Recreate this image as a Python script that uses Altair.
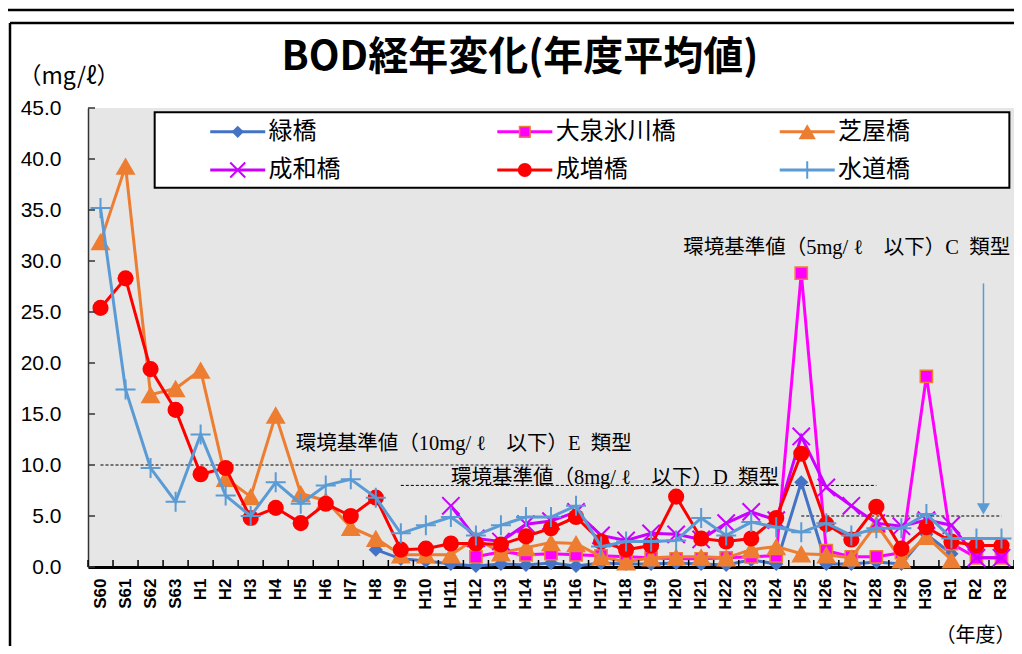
import altair as alt
import pandas as pd

categories = ["S60", "S61", "S62", "S63", "H1", "H2", "H3", "H4", "H5", "H6",
              "H7", "H8", "H9", "H10", "H11", "H12", "H13", "H14", "H15", "H16",
              "H17", "H18", "H19", "H20", "H21", "H22", "H23", "H24", "H25", "H26",
              "H27", "H28", "H29", "H30", "R1", "R2", "R3"]

N = None
midori = [N, N, N, N, N, N, N, N, N, N, N,
          1.7, 0.8, 0.6, 0.3, 0.1, 0.3, 0.2, 0.4, 0.1, 0.4, 0.3, 0.3, 0.4, 0.3,
          0.2, 0.7, 0.3, 8.3, 0.3, 0.3, 0.5, 0.3, 3.2, 1.3, N, N]
oizumi = [N, N, N, N, N, N, N, N, N, N, N, N, N, N, N,
          1.0, 1.5, 1.2, 1.3, 1.2, 1.1, 1.0, 0.9, 0.8, 0.8, 0.9, 1.0, 1.1, 28.8,
          1.6, 1.0, 1.0, 1.4, 18.7, 2.3, 0.9, 0.9]
shibaya = [31.9, 39.3, 16.9, 17.5, 19.3, 8.7, 6.9, 14.9, 7.2, 6.5, 3.9, 2.8,
           1.2, 1.2, 1.2, 2.8, 1.4, 1.9, 2.4, 2.3, 1.0, 0.5, 0.9, 1.0, 1.0, 0.9,
           1.7, 2.0, 1.3, 1.2, 0.9, 4.2, 0.7, 3.0, 0.7, N, N]
seiwa = [N, N, N, N, N, N, N, N, N, N, N, N, N, N,
         6.0, 2.8, 2.5, 4.2, 4.5, 5.4, 3.1, 2.6, 3.3, 3.2, 2.7, 4.3, 5.4, 4.6,
         12.8, 7.8, 6.0, 4.3, 4.0, 4.6, 4.1, 0.9, 0.9]
narimasu = [25.4, 28.3, 19.4, 15.4, 9.1, 9.7, 4.8, 5.8, 4.3, 6.2, 5.0, 6.8,
            1.7, 1.8, 2.3, 2.3, 2.2, 3.0, 3.8, 4.9, 2.5, 1.7, 2.1, 6.9, 2.8, 2.5,
            2.8, 4.8, 11.1, 4.2, 2.7, 5.9, 1.8, 3.9, 2.5, 2.1, 2.1]
suido = [35.2, 17.4, 9.7, 6.4, 13.0, 7.0, 5.0, 8.3, 6.2, 8.0, 8.6, 6.8,
         3.3, 4.1, 4.9, 3.1, 4.1, 4.9, 4.9, 6.0, 2.0, 2.5, 2.5, 2.6, 4.8, 3.1,
         4.4, 3.9, 3.4, 4.3, 3.1, 3.8, 3.8, 5.2, 2.8, 2.8, 2.8]

series_names = ["緑橋", "大泉氷川橋", "芝屋橋", "成和橋", "成増橋", "水道橋"]
series_values = [midori, oizumi, shibaya, seiwa, narimasu, suido]

y_ticks = [0, 5, 10, 15, 20, 25, 30, 35, 40, 45]

std_lines = [("E", "S60", 10), ("E", "H15", 10),
             ("D", "H9", 8), ("D", "H28", 8),
             ("C", "H25", 5), ("C", "R3", 5)]

X_PATH = "M-1,-1L1,1M-1,1L1,-1"
PLUS_PATH = "M-1,0L1,0M0,-1L0,1"

styles = {
    "緑橋": dict(color="#4472C4", shape="diamond", size=200, filled=True, stroke=None),
    "大泉氷川橋": dict(color="#FF00FF", shape="square", size=150, filled=True, stroke="#ED7D31"),
    "芝屋橋": dict(color="#ED7D31", shape="triangle-up", size=400, filled=True, stroke=None),
    "成和橋": dict(color="#CC00FF", shape=X_PATH, size=300, filled=False, stroke=None),
    "成増橋": dict(color="#FF0000", shape="circle", size=260, filled=True, stroke=None),
    "水道橋": dict(color="#5B9BD5", shape=PLUS_PATH, size=400, filled=False, stroke=None),
}

rows = []
for name, vals in zip(series_names, series_values):
    for c, v in zip(categories, vals):
        if v is not None:
            rows.append({"series": name, "year": c, "bod": v})
df = pd.DataFrame(rows)

W, H = 926, 459
JP = "Noto Sans CJK JP"
SERIF = "Liberation Serif, Noto Sans CJK JP"
NB = "\u00a0"

xscale = alt.Scale(type="band", domain=categories, paddingInner=0, paddingOuter=0)
yscale = alt.Scale(domain=[0, 45], nice=False, zero=True)

x_axis = alt.Axis(title="（年度）", labelAngle=-90, labelFontSize=17, labelFontWeight="bold",
                  labelFont="Liberation Sans", labelColor="black", labelPadding=11,
                  ticks=False, domainColor="black", domainWidth=3, grid=False,
                  titleX=927, titleY=68, titleAlign="right", titleBaseline="middle",
                  titleFont=JP, titleFontSize=20, titleFontWeight="normal", titleColor="black",
                  labelOverlap=False)
y_axis = alt.Axis(title="（mg/ℓ）", values=y_ticks, format=".1f", labelFontSize=21,
                  labelFont="Liberation Sans", labelColor="black",
                  labelPadding=27, ticks=False, domainColor="#333333", domainWidth=1.5,
                  grid=False, titleAngle=0, titleX=-70, titleY=-32, titleAlign="left",
                  titleBaseline="middle", titleFontSize=23, titleFontWeight="normal",
                  titleFont=JP, titleColor="black")


def xenc(field="year", bp=0.5):
    return alt.X(f"{field}:N", scale=xscale, axis=x_axis, bandPosition=bp, title="（年度）")


def yenc(field="bod"):
    return alt.Y(f"{field}:Q", scale=yscale, axis=y_axis, title="（mg/ℓ）")


layers = []

# dashed standard lines
std_df = pd.DataFrame(std_lines, columns=["grp", "year", "v"])
layers.append(alt.Chart(std_df).mark_line(color="black", strokeWidth=1, strokeDash=[3, 2]).encode(
    x=xenc(), y=yenc("v"), detail="grp:N"))

# series lines + markers (later series drawn on top)
for name in series_names:
    st = styles[name]
    sub = df[df.series == name]
    base = alt.Chart(sub)
    layers.append(base.mark_line(color=st["color"], strokeWidth=3).encode(x=xenc(), y=yenc()))
    pkw = dict(shape=st["shape"], size=st["size"], opacity=1)
    if st["filled"]:
        pkw.update(filled=True, fill=st["color"])
        if st["stroke"]:
            pkw.update(stroke=st["stroke"], strokeWidth=1.5)
        else:
            pkw.update(strokeWidth=0)
    else:
        pkw.update(filled=False, stroke=st["color"], strokeWidth=2)
    layers.append(base.mark_point(**pkw).encode(x=xenc(), y=yenc()))

# axis ticks (inside)
tick_df = pd.DataFrame({"year": categories})
layers.append(alt.Chart(tick_df).mark_rule(color="black", strokeWidth=1.5).encode(
    x=xenc(bp=0), y=alt.value(H), y2=alt.value(H - 7)))
layers.append(alt.Chart(pd.DataFrame({"year": [categories[-1]]})).mark_rule(
    color="black", strokeWidth=1.5).encode(x=xenc(bp=1), y=alt.value(H), y2=alt.value(H - 7)))
ytick_df = pd.DataFrame({"v": y_ticks})
layers.append(alt.Chart(ytick_df).mark_rule(color="#333333", strokeWidth=1.5).encode(
    y=yenc("v"), x=alt.value(0), x2=alt.value(7)))

# annotations
ann = [
    ("環境基準値（10mg/" + NB + "ℓ" + NB * 4 + "以下）E" + NB * 2 + "類型", "H5", 12.1, -5),
    ("環境基準値（8mg/" + NB + "ℓ" + NB * 4 + "以下）D" + NB * 2 + "類型", "H11", 8.7, 0),
    ("環境基準値（5mg/" + NB + "ℓ" + NB * 4 + "以下）C" + NB * 2 + "類型", "H20", 31.3, 7),
]
for txt, yr, v, dx in ann:
    layers.append(alt.Chart(pd.DataFrame({"t": [txt], "year": [yr], "v": [v]})).mark_text(
        align="left", baseline="middle", font=SERIF, fontSize=20.5, color="black", dx=dx).encode(
        x=xenc(), y=yenc("v"), text="t:N"))

# arrow
arrow_df = pd.DataFrame({"year": ["R2"], "v1": [27.8], "v2": [6.2]})
layers.append(alt.Chart(arrow_df).mark_rule(color="#5B9BD5", strokeWidth=1.5).encode(
    x=xenc(bp=0.78), y=yenc("v1"), y2="v2:Q"))
layers.append(alt.Chart(pd.DataFrame({"year": ["R2"], "v": [5.7]})).mark_point(
    shape="triangle-down", filled=True, fill="#5B9BD5", size=170, strokeWidth=0, opacity=1).encode(
    x=xenc(bp=0.78), y=yenc("v")))

# title and frame
layers.append(alt.Chart(pd.DataFrame({"t": ["BOD経年変化(年度平均値)"]})).mark_text(
    font=JP, fontSize=40, fontWeight="bold", color="black", align="center", baseline="middle").encode(
    text="t:N", x=alt.value(432), y=alt.value(-50)))
layers.append(alt.Chart(pd.DataFrame({"a": [0]})).mark_rule(color="black", strokeWidth=2.5).encode(
    x=alt.value(-82), x2=alt.value(940), y=alt.value(-98)))
layers.append(alt.Chart(pd.DataFrame({"a": [0]})).mark_rule(color="black", strokeWidth=2.5).encode(
    x=alt.value(-78), x2=alt.value(940), y=alt.value(-85)))
layers.append(alt.Chart(pd.DataFrame({"a": [0]})).mark_rule(color="black", strokeWidth=2.5).encode(
    x=alt.value(-78), y=alt.value(-85), y2=alt.value(560)))

main = alt.layer(*layers)

# custom legend (independent unit scales)
lx_scale = alt.Scale(domain=[0, 1], nice=False, zero=False)
ly_scale = alt.Scale(domain=[0, 1], nice=False, zero=False, reverse=True)
box_df = pd.DataFrame({"x1": [0.072], "x2": [0.995], "y1": [0.009], "y2": [0.174]})
leg_layers = [alt.Chart(box_df).mark_rect(fill="white", stroke="black", strokeWidth=2).encode(
    x=alt.X("x1:Q", scale=lx_scale, axis=None), x2="x2:Q",
    y=alt.Y("y1:Q", scale=ly_scale, axis=None), y2="y2:Q")]
col_x = [0.132, 0.442, 0.747]
row_y = [0.052, 0.135]
for i, name in enumerate(series_names):
    st = styles[name]
    cx = col_x[i % 3]
    ry = row_y[i // 3]
    ldf = pd.DataFrame({"a": [cx], "b": [cx + 0.0594], "m": [cx + 0.0297], "t": [cx + 0.063],
                        "y": [ry], "name": [name]})
    lb = alt.Chart(ldf)
    leg_layers.append(lb.mark_rule(color=st["color"], strokeWidth=3).encode(
        x=alt.X("a:Q", scale=lx_scale, axis=None), x2="b:Q",
        y=alt.Y("y:Q", scale=ly_scale, axis=None)))
    pkw = dict(shape=st["shape"], size=st["size"] * 0.75, opacity=1)
    if st["filled"]:
        pkw.update(filled=True, fill=st["color"])
        if st["stroke"]:
            pkw.update(stroke=st["stroke"], strokeWidth=1.5)
        else:
            pkw.update(strokeWidth=0)
    else:
        pkw.update(filled=False, stroke=st["color"], strokeWidth=2)
    leg_layers.append(lb.mark_point(**pkw).encode(
        x=alt.X("m:Q", scale=lx_scale, axis=None), y=alt.Y("y:Q", scale=ly_scale, axis=None)))
    leg_layers.append(lb.mark_text(align="left", baseline="middle", font=JP, fontSize=24,
                                   color="black").encode(
        x=alt.X("t:Q", scale=lx_scale, axis=None), y=alt.Y("y:Q", scale=ly_scale, axis=None),
        text="name:N"))

legend = alt.layer(*leg_layers)

chart = alt.layer(main, legend).resolve_scale(x="independent", y="independent").properties(
    width=W, height=H,
    autosize=alt.AutoSizeParams(type="none"),
    padding={"left": 80, "top": 100, "right": 0, "bottom": 79},
    background="white",
).configure_view(stroke=None, fill="#E6E6E6")

chart.save("out.html", embed_options={"renderer": "svg", "actions": False})
